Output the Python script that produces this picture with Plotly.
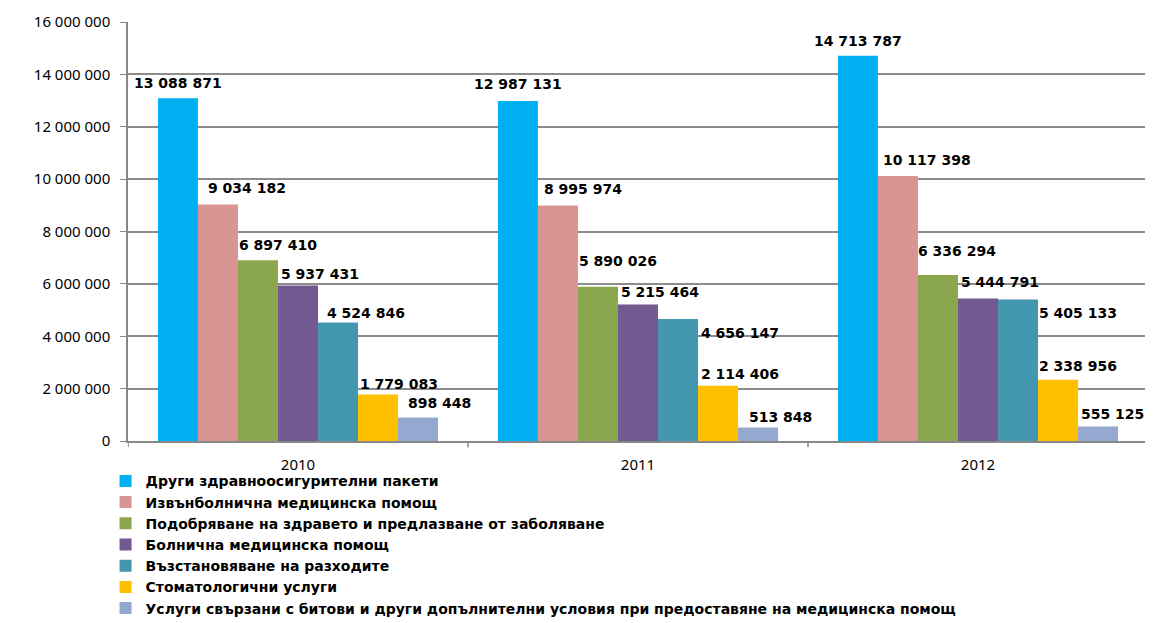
import plotly.graph_objects as go

years = ["2010", "2011", "2012"]
series_names = [
    "Други здравноосигурителни пакети",
    "Извънболнична медицинска помощ",
    "Подобряване на здравето и предлазване от заболяване",
    "Болнична медицинска помощ",
    "Възстановяване на разходите",
    "Стоматологични услуги",
    "Услуги свързани с битови и други допълнителни условия при предоставяне на медицинска помощ",
]
v_other = [13088871, 12987131, 14713787]
v_outpatient = [9034182, 8995974, 10117398]
v_prevention = [6897410, 5890026, 6336294]
v_hospital = [5937431, 5215464, 5444791]
v_refund = [4524846, 4656147, 5405133]
v_dental = [1779083, 2114406, 2338956]
v_extra = [898448, 513848, 555125]
series_values = [v_other, v_outpatient, v_prevention, v_hospital, v_refund, v_dental, v_extra]
colors = ["#00B0F0", "#D99594", "#8BA74E", "#725990", "#4398AF", "#FFC000", "#95A9D0"]
y_ticks = list(range(0, 16000001, 2000000))

# label placement (pixel offsets of label centre from bar centre / bar top), style only
label_dx = [[0, 0, 0], [29, 25, 29], [20, 20, 19], [22, 22, 22], [28, 62, 60], [21, 22, 20], [21, 22, 14]]
label_dy = [[15, 17, 15], [16, 16, 16], [15, 26, 24], [12, 12, 16], [10, -14, -14], [10, 12, 14], [14, 11, 12]]

FONT = "Noto Sans"
LBLFONT = "DejaVu Sans"
bargap = 0.176
n = len(series_values)
w = (1 - bargap) / n

fig = go.Figure()
xs = list(range(len(years)))
for i, (name, vals, col) in enumerate(zip(series_names, series_values, colors)):
    fig.add_trace(go.Bar(x=xs, y=vals, name="<b>" + name + "</b>",
                         marker=dict(color=col, line=dict(width=0)),
                         legendgroup=str(i)))

def fmt(v):
    return f"{v:,}".replace(",", " ")

annotations = []
for i, vals in enumerate(series_values):
    for j, v in enumerate(vals):
        xc = j - (1 - bargap) / 2 + (i + 0.5) * w
        annotations.append(dict(
            x=xc, y=v, xref="x", yref="y", text="<b>" + fmt(v) + "</b>",
            showarrow=False, xanchor="center", yanchor="middle",
            xshift=label_dx[i][j], yshift=label_dy[i][j],
            font=dict(family=LBLFONT, size=14, color="black"),
        ))

fig.update_layout(
    width=1145, height=615,
    barmode="group", bargap=bargap, bargroupgap=0,
    paper_bgcolor="white", plot_bgcolor="white",
    margin=dict(l=120, r=5, t=14, b=182, autoexpand=False),
    separators=". ",
    font=dict(family=FONT, size=14, color="black"),
    annotations=annotations,
    showlegend=True,
    legend=dict(orientation="v", x=-0.022, y=-0.058, xanchor="left", yanchor="top",
                font=dict(family=LBLFONT, size=14, color="black"),
                tracegroupgap=7, itemwidth=30, traceorder="normal",
                bgcolor="rgba(0,0,0,0)"),
)
fig.update_xaxes(range=[-0.5, 2.5], tickvals=xs, ticktext=years, showgrid=False,
                 showline=True, linecolor="#888888", linewidth=2, ticks="",
                 ticklabelstandoff=9,
                 tickfont=dict(family=FONT, size=15), zeroline=False)
fig.update_yaxes(range=[0, 16000000], tickvals=y_ticks, tickformat=",d",
                 showgrid=True, gridcolor="#8c8c8c", gridwidth=1.5,
                 showline=True, linecolor="#888888", linewidth=1.5,
                 ticks="outside", ticklen=6, tickcolor="#888888",
                 ticklabelstandoff=7,
                 tickfont=dict(family=FONT, size=15), zeroline=False)

# category separator ticks on x axis
for k in [-0.5, 0.5, 1.5, 2.5]:
    fig.add_shape(type="line", xref="x", yref="paper", x0=k, x1=k, y0=0, y1=-0.015,
                  line=dict(color="#888888", width=1.5))

fig.write_html("out.html")
